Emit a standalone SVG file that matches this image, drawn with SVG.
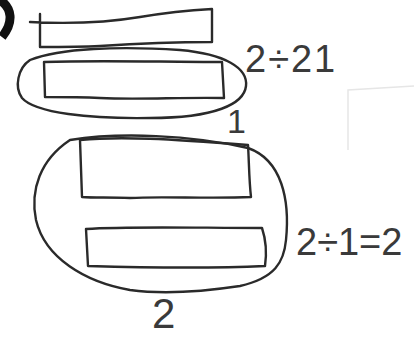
<svg xmlns="http://www.w3.org/2000/svg" width="414" height="337" viewBox="0 0 414 337">
<style>
.s{fill:none;stroke:#2a2a2a;stroke-width:2.4;stroke-linecap:round;stroke-linejoin:round}
.t{font-family:"Liberation Sans",Arial,sans-serif;fill:#3a3a3a}
</style>
<rect width="414" height="337" fill="#fff"/>
<path d="M348,150 L348,90 L414,86" fill="none" stroke="#e6e6e6" stroke-width="1.5"/>
<path d="M0,0 C12,8 14,22 2,37" fill="none" stroke="#111" stroke-width="9"/>
<g id="rect-top">
<path class="s" d="M30,22 C70,24 110,22 140,17 C170,12 195,10 212,9 L212,42 C170,42 130,44 100,46 C80,47 60,47 40,47 L40,14"/>
</g>
<g id="group-1">
<path class="s" d="M44,62 C100,60 160,62 222,62 L224,98 C180,97 140,100 100,98 C80,97 60,97 45,97 Z"/>
<path class="s" d="M30,60 C60,48 120,46 180,50 C225,54 248,68 246,86 C244,104 215,118 150,118 C90,119 35,113 22,98 C14,87 18,68 30,60 Z"/>
<text class="t" x="245" y="72" font-size="38" letter-spacing="2">2÷21</text>
<text class="t" x="227" y="133" font-size="34">1</text>
</g>
<g id="group-2">
<path class="s" d="M80,140 C120,136 170,139 248,145 C249,160 249,180 251,197 C210,199 160,196 130,198 C110,197 95,198 82,197 Z"/>
<path class="s" d="M86,229 C130,226 200,228 262,228 C266,240 267,252 265,266 C220,268 160,268 88,266 Z"/>
<path class="s" d="M70,140 C120,132 190,135 248,148 C282,160 290,200 286,240 C284,262 275,278 240,286 C200,292 160,294 130,290 C85,282 45,258 36,220 C30,190 40,160 70,140 Z"/>
<text class="t" x="296" y="255" font-size="38">2÷1=2</text>
<text class="t" x="152" y="328" font-size="42">2</text>
</g>
<g id="connectors"></g>
</svg>
